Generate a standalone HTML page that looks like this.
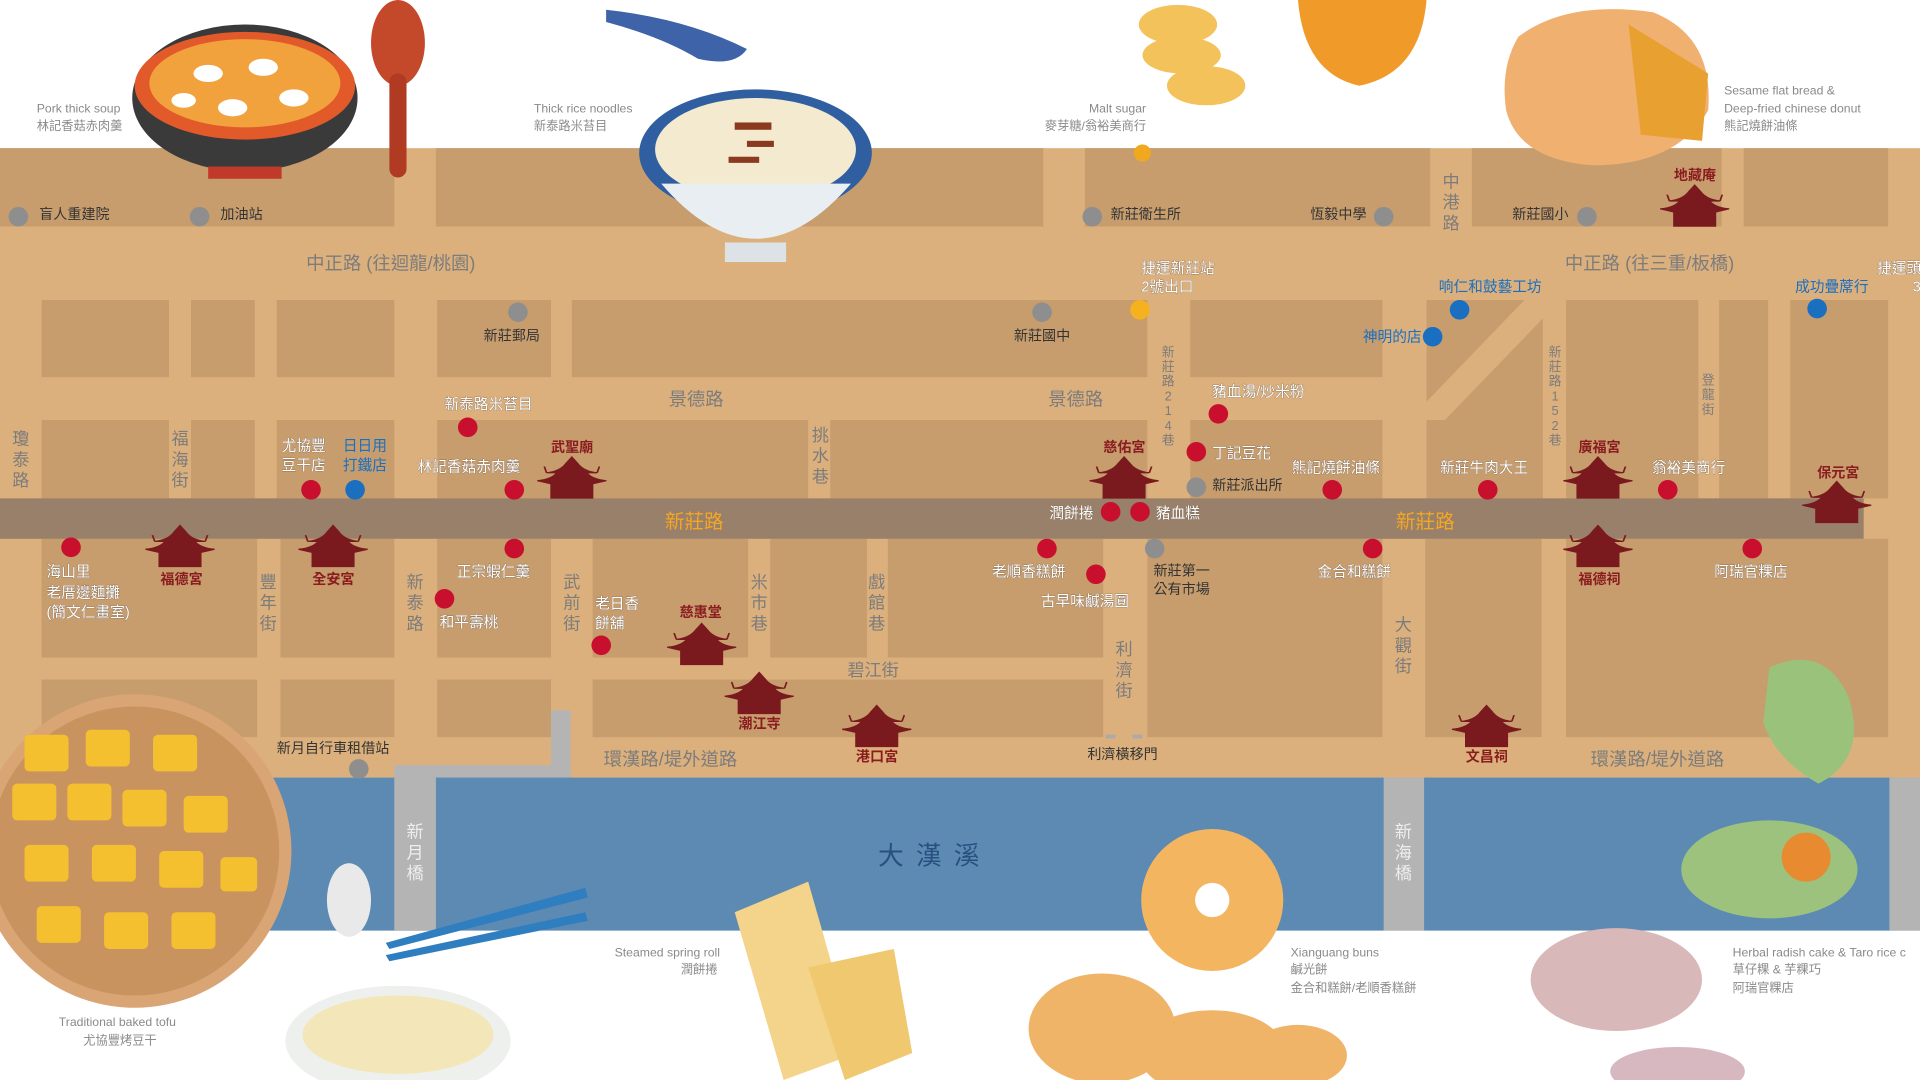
<!DOCTYPE html>
<html><head><meta charset="utf-8"><style>
html,body{margin:0;padding:0;background:#fff;}
svg{display:block;}
text{font-family:"Liberation Sans","Noto Sans CJK TC",sans-serif;}
.lb{fill:#fff;font-size:12px;stroke:#7a6450;stroke-width:0.5px;paint-order:stroke;}
.bl{fill:#1a6fc0;font-size:12px;}
.tp{fill:#8a1c1f;font-size:11.5px;font-weight:bold;}
.rd{fill:#7c7c7c;font-size:15px;}
.rv{fill:#7c7c7c;font-size:14px;}
.cap{fill:#8a8a8a;font-size:10px;}
.gd{fill:#8e8e8e}.rdd{fill:#c8102e}.bd{fill:#1a6fc0}
</style></head><body>
<svg width="1920" height="1080" viewBox="0 0 1568 882" preserveAspectRatio="none" xmlns="http://www.w3.org/2000/svg">
<defs>
<symbol id="tm" viewBox="-32 -30 64 56" preserveAspectRatio="none" overflow="visible">
<path d="M-30,2 Q-16,0 -12,-10 L-9,-14 L9,-14 L12,-10 Q16,0 30,2 L18,6 L18,24 L-18,24 L-18,6 Z M-22,-8 Q-10,-10 -5,-20 L0,-28 L5,-20 Q10,-10 22,-8 Z M-22,-8 L-24,-16 M22,-8 L24,-16" fill="#7a1a1e" stroke="#7a1a1e" stroke-width="1.5"/>
</symbol>
</defs>
<rect width="1568" height="882" fill="#fff"/>
<rect x="0" y="121" width="1568" height="514" fill="#dcb07c"/>
<g fill="#c79d6e">
<rect x="0" y="121" width="322" height="64"/><rect x="356" y="121" width="496" height="64"/><rect x="886" y="121" width="282" height="64"/><rect x="1202" y="121" width="204" height="64"/><rect x="1424" y="121" width="118" height="64"/>
<rect x="34" y="245" width="104" height="63"/><rect x="156" y="245" width="52" height="63"/><rect x="226" y="245" width="96" height="63"/><rect x="357" y="245" width="93" height="63"/><rect x="467" y="245" width="470" height="63"/><rect x="972" y="245" width="157" height="63"/>
<rect x="34" y="343" width="104" height="64"/><rect x="156" y="343" width="52" height="64"/><rect x="226" y="343" width="96" height="64"/><rect x="357" y="343" width="303" height="64"/><rect x="678" y="343" width="259" height="64"/><rect x="972" y="343" width="157" height="64"/>
<rect x="1165" y="245" width="95" height="162"/><rect x="1279" y="245" width="108" height="162"/><rect x="1404" y="245" width="40" height="162"/><rect x="1462" y="245" width="80" height="162"/>
<rect x="34" y="440" width="176" height="97"/><rect x="229" y="440" width="93" height="97"/><rect x="357" y="440" width="93" height="97"/><rect x="484" y="440" width="127" height="97"/><rect x="629" y="440" width="79" height="97"/><rect x="725" y="440" width="176" height="97"/>
<rect x="937" y="440" width="192" height="162"/><rect x="1164" y="440" width="95" height="162"/><rect x="1279" y="440" width="263" height="162"/>
<rect x="34" y="555" width="176" height="47"/><rect x="229" y="555" width="93" height="47"/><rect x="357" y="555" width="93" height="47"/><rect x="484" y="555" width="417" height="47"/>
</g>
<polygon points="1245,245 1262,245 1262,258 1180,343 1165,343 1165,328" fill="#dcb07c"/>
<rect x="0" y="407" width="1522" height="33" fill="#98806a"/>
<path d="M450,580 L466,580 L466,640 L356,640 L356,760 L322,760 L322,625 L450,625 Z" fill="#b4b4b4"/>
<rect x="0" y="635" width="1568" height="125" fill="#5d8ab2"/>
<rect x="322" y="635" width="34" height="125" fill="#b4b4b4"/>
<rect x="1130" y="635" width="33" height="125" fill="#b4b4b4"/>
<rect x="1543" y="635" width="25" height="125" fill="#b4b4b4"/>
<rect x="903" y="600" width="8" height="3" fill="#aaa"/><rect x="925" y="600" width="8" height="3" fill="#aaa"/>

<ellipse cx="200" cy="80" rx="92" ry="60" fill="#3a3a3a"/>
<ellipse cx="200" cy="70" rx="90" ry="44" fill="#e35a2a"/>
<ellipse cx="200" cy="68" rx="78" ry="36" fill="#f2a23c"/>
<rect x="170" y="136" width="60" height="10" fill="#c0392b"/>
<g fill="#fff"><ellipse cx="170" cy="60" rx="12" ry="7"/><ellipse cx="215" cy="55" rx="12" ry="7"/><ellipse cx="240" cy="80" rx="12" ry="7"/><ellipse cx="190" cy="88" rx="12" ry="7"/><ellipse cx="150" cy="82" rx="10" ry="6"/></g>
<ellipse cx="325" cy="35" rx="22" ry="35" fill="#c4482a"/><rect x="318" y="60" width="14" height="85" rx="7" fill="#b03a22"/>
<path d="M495,8 Q560,15 610,40 Q600,55 570,48 Q540,30 495,18 Z" fill="#3e63a8"/>
<ellipse cx="617" cy="125" rx="95" ry="52" fill="#2f5fa0"/>
<ellipse cx="617" cy="122" rx="82" ry="42" fill="#f4ead0"/>
<path d="M540,150 Q617,240 695,150 Z" fill="#e9eef2"/>
<rect x="592" y="198" width="50" height="16" fill="#dde2e6"/>
<g fill="#8a3a1e"><rect x="600" y="100" width="30" height="6"/><rect x="610" y="115" width="22" height="5"/><rect x="595" y="128" width="25" height="5"/></g>
<g fill="#f3c25a"><ellipse cx="962" cy="20" rx="32" ry="16"/><ellipse cx="965" cy="45" rx="32" ry="15"/><ellipse cx="985" cy="70" rx="32" ry="16"/></g>
<circle cx="933" cy="125" r="7" fill="#f0a81e"/>
<path d="M1060,0 L1165,0 Q1160,60 1110,70 Q1065,60 1060,0 Z" fill="#f09a2a"/>
<path d="M1240,30 Q1280,0 1350,10 Q1400,30 1395,90 Q1370,135 1300,135 Q1240,130 1230,90 Q1225,55 1240,30 Z" fill="#f0b070"/>
<path d="M1330,20 L1395,60 L1390,115 L1340,110 Z" fill="#e8a030"/>
<circle cx="110" cy="695" r="128" fill="#d9a575"/>
<circle cx="110" cy="695" r="118" fill="#c8935e"/>
<g fill="#f5c030"><rect x="20" y="600" width="36" height="30" rx="4"/><rect x="70" y="596" width="36" height="30" rx="4"/><rect x="125" y="600" width="36" height="30" rx="4"/><rect x="10" y="640" width="36" height="30" rx="4"/><rect x="55" y="640" width="36" height="30" rx="4"/><rect x="100" y="645" width="36" height="30" rx="4"/><rect x="150" y="650" width="36" height="30" rx="4"/><rect x="20" y="690" width="36" height="30" rx="4"/><rect x="75" y="690" width="36" height="30" rx="4"/><rect x="130" y="695" width="36" height="30" rx="4"/><rect x="180" y="700" width="30" height="28" rx="4"/><rect x="30" y="740" width="36" height="30" rx="4"/><rect x="85" y="745" width="36" height="30" rx="4"/><rect x="140" y="745" width="36" height="30" rx="4"/></g>
<ellipse cx="325" cy="850" rx="92" ry="45" fill="#eef0ee"/><ellipse cx="325" cy="845" rx="78" ry="32" fill="#f3e6b8"/>
<path d="M315,770 L478,725 L480,733 L318,775 Z M315,780 L478,745 L480,752 L318,785 Z" fill="#2f7fc0"/>
<ellipse cx="285" cy="735" rx="18" ry="30" fill="#e9e9e9"/>
<path d="M600,745 L660,720 L700,860 L640,882 Z" fill="#f3d48a"/>
<path d="M660,790 L730,775 L745,860 L690,882 Z" fill="#f0c870"/>
<circle cx="990" cy="735" r="58" fill="#f3b560"/><circle cx="990" cy="735" r="14" fill="#fff"/>
<ellipse cx="900" cy="840" rx="60" ry="45" fill="#f0b468"/><ellipse cx="990" cy="860" rx="60" ry="35" fill="#f0b468"/><ellipse cx="1060" cy="862" rx="40" ry="25" fill="#f0b468"/>
<path d="M1445,545 Q1490,525 1510,570 Q1525,620 1485,640 Q1450,620 1440,590 Z" fill="#9ac27a"/>
<ellipse cx="1445" cy="710" rx="72" ry="40" fill="#9dc27e"/><circle cx="1475" cy="700" r="20" fill="#e88a30"/>
<ellipse cx="1320" cy="800" rx="70" ry="42" fill="#d8b8b8"/>
<ellipse cx="1370" cy="875" rx="55" ry="20" fill="#d8b8c0"/>

<text class="cap" x="30" y="92">Pork thick soup</text><text class="cap" x="30" y="106">林記香菇赤肉羹</text>
<text class="cap" x="436" y="92">Thick rice noodles</text><text class="cap" x="436" y="106">新泰路米苔目</text>
<text class="cap" x="936" y="92" text-anchor="end">Malt sugar</text><text class="cap" x="936" y="106" text-anchor="end">麥芽糖/翁裕美商行</text>
<text class="cap" x="1408" y="77">Sesame flat bread &amp;</text><text class="cap" x="1408" y="92">Deep-fried chinese donut</text><text class="cap" x="1408" y="106">熊記燒餅油條</text>
<text class="cap" x="588" y="781" text-anchor="end">Steamed spring roll</text><text class="cap" x="556" y="795">潤餅捲</text>
<text class="cap" x="1054" y="781">Xianguang buns</text><text class="cap" x="1054" y="795">鹹光餅</text><text class="cap" x="1054" y="810">金合和糕餅/老順香糕餅</text>
<text class="cap" x="1415" y="781">Herbal radish cake &amp; Taro rice c</text><text class="cap" x="1415" y="795">草仔粿 &amp; 芋粿巧</text><text class="cap" x="1415" y="810">阿瑞官粿店</text>
<text class="cap" x="48" y="838">Traditional baked tofu</text><text class="cap" x="68" y="853">尤協豐烤豆干</text>

<text class="rd" x="250" y="220">中正路 (往迴龍/桃園)</text>
<text class="rd" x="1278" y="220">中正路 (往三重/板橋)</text>
<text class="rd" x="546" y="331">景德路</text><text class="rd" x="856" y="331">景德路</text>
<text x="543" y="431" font-size="16" fill="#f5a623">新莊路</text><text x="1140" y="431" font-size="16" fill="#f5a623">新莊路</text>
<text class="rv" x="692" y="552">碧江街</text>
<text class="rd" x="493" y="625">環漢路/堤外道路</text><text class="rd" x="1299" y="625">環漢路/堤外道路</text>
<text x="717" y="706" font-size="21" fill="#274f80" letter-spacing="10">大漢溪</text>
<g class="rv" text-anchor="middle">
<text x="17" y="363">瓊</text><text x="17" y="380">泰</text><text x="17" y="397">路</text>
<text x="147" y="363">福</text><text x="147" y="380">海</text><text x="147" y="397">街</text>
<text x="670" y="360">挑</text><text x="670" y="377">水</text><text x="670" y="394">巷</text>
<text x="219" y="480">豐</text><text x="219" y="497">年</text><text x="219" y="514">街</text>
<text x="339" y="480">新</text><text x="339" y="497">泰</text><text x="339" y="514">路</text>
<text x="467" y="480">武</text><text x="467" y="497">前</text><text x="467" y="514">街</text>
<text x="620" y="480">米</text><text x="620" y="497">市</text><text x="620" y="514">巷</text>
<text x="716" y="480">戲</text><text x="716" y="497">館</text><text x="716" y="514">巷</text>
<text x="918" y="535">利</text><text x="918" y="552">濟</text><text x="918" y="569">街</text>
<text x="1146" y="515">大</text><text x="1146" y="532">觀</text><text x="1146" y="549">街</text>
<text x="1185" y="153">中</text><text x="1185" y="170">港</text><text x="1185" y="187">路</text>
<text x="339" y="684" fill="#eee">新</text><text x="339" y="701" fill="#eee">月</text><text x="339" y="718" fill="#eee">橋</text>
<text x="1146" y="684" fill="#eee">新</text><text x="1146" y="701" fill="#eee">海</text><text x="1146" y="718" fill="#eee">橋</text>
</g>
<g fill="#7c7c7c" font-size="10.5" text-anchor="middle">
<text x="954" y="291">新</text><text x="954" y="303">莊</text><text x="954" y="315">路</text><text x="954" y="327">2</text><text x="954" y="339">1</text><text x="954" y="351">4</text><text x="954" y="363">巷</text>
<text x="1270" y="291">新</text><text x="1270" y="303">莊</text><text x="1270" y="315">路</text><text x="1270" y="327">1</text><text x="1270" y="339">5</text><text x="1270" y="351">2</text><text x="1270" y="363">巷</text>
<text x="1395" y="314">登</text><text x="1395" y="326">龍</text><text x="1395" y="338">街</text>
</g>

<use href="#tm" x="437" y="372" width="60" height="36"/>
<use href="#tm" x="117" y="428" width="60" height="36"/>
<use href="#tm" x="242" y="428" width="60" height="36"/>
<use href="#tm" x="543" y="508" width="60" height="36"/>
<use href="#tm" x="590" y="548" width="60" height="36"/>
<use href="#tm" x="686" y="575" width="60" height="36"/>
<use href="#tm" x="888" y="372" width="60" height="36"/>
<use href="#tm" x="1275" y="372" width="60" height="36"/>
<use href="#tm" x="1470" y="392" width="60" height="36"/>
<use href="#tm" x="1275" y="428" width="60" height="36"/>
<use href="#tm" x="1184" y="575" width="60" height="36"/>
<use href="#tm" x="1354" y="150" width="60" height="36"/>
<g class="tp">
<text x="450" y="369">武聖廟</text><text x="131" y="477">福德宮</text><text x="255" y="477">全安宮</text><text x="555" y="504">慈惠堂</text><text x="603" y="595">潮江寺</text><text x="699" y="622">港口宮</text><text x="901" y="369">慈佑宮</text><text x="1289" y="369">廣福宮</text><text x="1484" y="390">保元宮</text><text x="1289" y="477">福德祠</text><text x="1197" y="622">文昌祠</text><text x="1367" y="147">地藏庵</text>
</g>

<g class="gd"><circle cx="15" cy="177" r="8"/><circle cx="163" cy="177" r="8"/><circle cx="423" cy="255" r="8"/><circle cx="851" cy="255" r="8"/><circle cx="892" cy="177" r="8"/><circle cx="1130" cy="177" r="8"/><circle cx="1296" cy="177" r="8"/><circle cx="977" cy="398" r="8"/><circle cx="943" cy="448" r="8"/><circle cx="293" cy="628" r="8"/></g>
<circle cx="931" cy="253" r="8" fill="#f5b21e"/>
<g class="bd"><circle cx="290" cy="400" r="8"/><circle cx="1192" cy="253" r="8"/><circle cx="1170" cy="275" r="8"/><circle cx="1484" cy="252" r="8"/></g>
<g class="rdd"><circle cx="382" cy="349" r="8"/><circle cx="254" cy="400" r="8"/><circle cx="420" cy="400" r="8"/><circle cx="58" cy="447" r="8"/><circle cx="420" cy="448" r="8"/><circle cx="363" cy="489" r="8"/><circle cx="491" cy="527" r="8"/><circle cx="995" cy="338" r="8"/><circle cx="977" cy="369" r="8"/><circle cx="1088" cy="400" r="8"/><circle cx="907" cy="418" r="8"/><circle cx="931" cy="418" r="8"/><circle cx="855" cy="448" r="8"/><circle cx="895" cy="469" r="8"/><circle cx="1121" cy="448" r="8"/><circle cx="1215" cy="400" r="8"/><circle cx="1362" cy="400" r="8"/><circle cx="1431" cy="448" r="8"/></g>

<g fill="#333" font-size="11.5">
<text x="32" y="179">盲人重建院</text><text x="180" y="179">加油站</text><text x="395" y="278">新莊郵局</text><text x="828" y="278">新莊國中</text><text x="907" y="179">新莊衛生所</text><text x="1070" y="179">恆毅中學</text><text x="1235" y="179">新莊國小</text><text x="990" y="400">新莊派出所</text><text x="942" y="470">新莊第一</text><text x="942" y="485">公有市場</text><text x="226" y="615">新月自行車租借站</text><text x="888" y="620">利濟橫移門</text>
</g>
<g class="lb">
<text x="932" y="223">捷運新莊站</text><text x="932" y="238">2號出口</text>
<text x="1533" y="223">捷運頭</text><text x="1562" y="238">3</text>
<text x="363" y="334">新泰路米苔目</text>
<text x="230" y="368">尤協豐</text><text x="230" y="384">豆干店</text>
<text x="341" y="385">林記香菇赤肉羹</text>
<text x="38" y="471">海山里</text><text x="38" y="488">老厝邊麵攤</text><text x="38" y="504">(簡文仁畫室)</text>
<text x="373" y="471">正宗蝦仁羹</text><text x="359" y="512">和平壽桃</text>
<text x="486" y="497">老日香</text><text x="486" y="513">餅舖</text>
<text x="990" y="324">豬血湯/炒米粉</text><text x="990" y="374">丁記豆花</text>
<text x="1055" y="386">熊記燒餅油條</text><text x="857" y="423">潤餅捲</text><text x="944" y="423">豬血糕</text>
<text x="810" y="471">老順香糕餅</text><text x="850" y="495">古早味鹹湯圓</text><text x="1076" y="471">金合和糕餅</text>
<text x="1176" y="386">新莊牛肉大王</text><text x="1349" y="386">翁裕美商行</text><text x="1400" y="471">阿瑞官粿店</text>
</g>
<g class="bl">
<text x="280" y="368">日日用</text><text x="280" y="384">打鐵店</text>
<text x="1175" y="238">响仁和鼓藝工坊</text><text x="1113" y="279">神明的店</text><text x="1466" y="238">成功疊蓆行</text>
</g>
</svg>
</body></html>
